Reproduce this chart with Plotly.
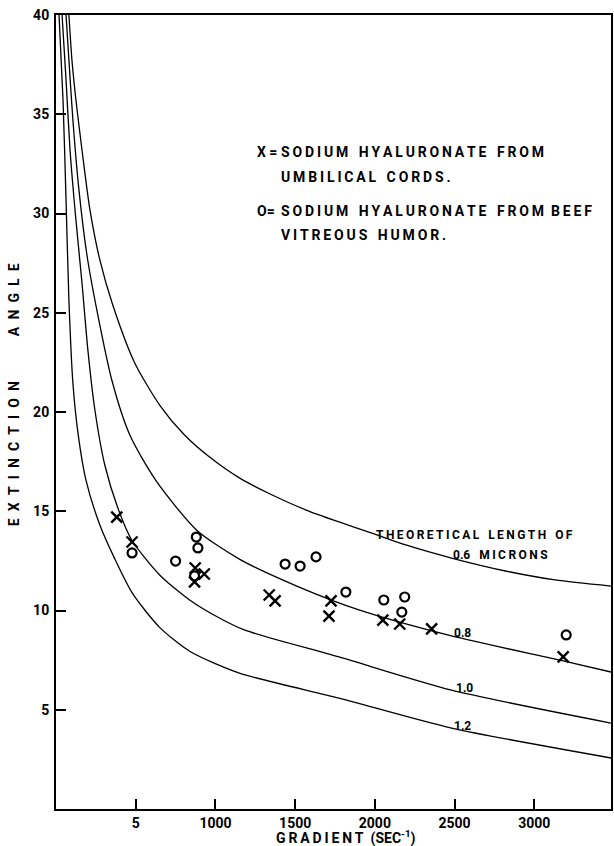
import plotly.graph_objects as go

# ---------------- data ----------------
# theoretical curves (gradient, extinction angle)
g_06 = [81, 100, 125, 163, 213, 275, 356, 494, 650, 806, 963, 1150, 1356, 1569, 1775, 1981, 2194, 2481, 2819, 3131, 3481]
a_06 = [40.0, 37.73, 35.72, 33.20, 30.18, 27.66, 25.39, 22.47, 20.35, 18.84, 17.73, 16.68, 15.82, 15.06, 14.46, 13.90, 13.30, 12.64, 11.99, 11.54, 11.23]

g_08 = [63, 81, 106, 144, 194, 256, 350, 463, 625, 881, 1150, 1525, 1900, 2481, 3181, 3481]
a_08 = [40.0, 37.73, 34.71, 31.18, 27.91, 25.14, 21.61, 18.84, 16.57, 14.06, 12.59, 11.18, 10.03, 8.72, 7.46, 6.90]

g_10 = [38, 63, 88, 125, 163, 200, 244, 306, 388, 475, 650, 838, 1025, 1181, 1775, 2481, 3481]
a_10 = [40.0, 36.73, 33.2, 29.67, 26.5, 23.12, 20.1, 17.33, 15.16, 13.55, 11.79, 10.53, 9.62, 9.02, 7.66, 5.99, 4.33]

g_12 = [19, 44, 63, 81, 106, 138, 188, 275, 369, 481, 650, 838, 1150, 1775, 2481, 3481]
a_12 = [40.0, 35.72, 30.68, 25.64, 21.46, 18.94, 16.57, 14.31, 12.6, 10.85, 9.15, 7.95, 6.85, 5.59, 4.08, 2.57]

# measured points
g_umbilical = [381, 477, 873, 869, 930, 1337, 1374, 1725, 1712, 2050, 2156, 2356, 3181]
a_umbilical = [14.7, 13.45, 12.14, 11.44, 11.84, 10.78, 10.48, 10.48, 9.72, 9.52, 9.32, 9.07, 7.66]

g_vitreous = [477, 750, 880, 890, 869, 1437, 1531, 1631, 1818, 2056, 2187, 2169, 3200]
a_vitreous = [12.9, 12.49, 13.7, 13.15, 11.74, 12.34, 12.24, 12.7, 10.93, 10.53, 10.68, 9.92, 8.77]

x_tickvals = [500, 1000, 1500, 2000, 2500, 3000]
x_ticktext = ["5", "1000", "1500", "2000", "2500", "3000"]
y_tickvals = [5, 10, 15, 20, 25, 30, 35, 40]
y_ticktext = ["5", "10", "15", "20", "25", "30", "35", "40"]

FONT = "Roboto"
NB = "\u00a0"

fig = go.Figure()

for g, a in [(g_06, a_06), (g_08, a_08), (g_10, a_10), (g_12, a_12)]:
    fig.add_trace(go.Scatter(
        x=g, y=a, mode="lines",
        line=dict(color="black", width=1.3, shape="spline", smoothing=0.7),
        showlegend=False, hoverinfo="skip"))

fig.add_trace(go.Scatter(
    x=g_umbilical, y=a_umbilical, mode="markers",
    marker=dict(symbol="x-thin-open", size=11, color="black",
                line=dict(color="black", width=2.4)),
    showlegend=False))

fig.add_trace(go.Scatter(
    x=g_vitreous, y=a_vitreous, mode="markers",
    marker=dict(symbol="circle-open", size=9, color="black",
                line=dict(color="black", width=2.2)),
    showlegend=False))

tickfont = dict(family=FONT, size=14, color="black", weight="bold")

fig.update_xaxes(
    range=[0, 3481], showgrid=False, zeroline=False,
    showline=True, linecolor="black", linewidth=2, mirror=True,
    ticks="inside", ticklen=10, tickwidth=1.5, tickcolor="black",
    tickvals=x_tickvals, ticktext=x_ticktext, tickfont=tickfont)

fig.update_yaxes(
    range=[0, 40], showgrid=False, zeroline=False,
    showline=True, linecolor="black", linewidth=2, mirror=True,
    ticks="inside", ticklen=10, tickwidth=1.5, tickcolor="black",
    tickvals=y_tickvals, ticktext=y_ticktext, tickfont=tickfont,
    ticklabelstandoff=2)

def sp(word, sep="\u2009"):
    return sep.join(list(word))

annots = []
txtfont = dict(family=FONT, size=14, color="black", weight="bold")

def add(text, x, y, xanchor="left", font=txtfont, **kw):
    annots.append(dict(text=text, x=x, y=y, xref="x", yref="y",
                       xanchor=xanchor, yanchor="middle", showarrow=False,
                       font=font, **kw))

gap = NB * 3
# legend block
add("X" + NB + "=", 1250, 33.1)
add(sp("SODIUM") + gap + sp("HYALURONATE") + gap + sp("FROM"), 1400, 33.1)
add(sp("UMBILICAL") + gap + sp("CORDS."), 1400, 31.85)
add("O=", 1250, 30.15)
add(sp("SODIUM") + gap + sp("HYALURONATE") + gap + sp("FROM") + NB * 2 + sp("BEEF"), 1400, 30.15)
add(sp("VITREOUS") + gap + sp("HUMOR."), 1400, 28.9)

# curve labels
lblfont = dict(family=FONT, size=12, color="black", weight="bold")
add(sp("THEORETICAL") + gap + sp("LENGTH") + gap + sp("OF"), 1994, 13.80, font=lblfont)
add("0.6" + gap + sp("MICRONS"), 2475, 12.80, font=lblfont)
add("0.8", 2481, 8.87, font=lblfont)
add("1.0", 2494, 6.10, font=lblfont)
add("1.2", 2481, 4.18, font=lblfont)

# axis titles
annots.append(dict(text=sp("GRADIENT") + NB * 2 + "(SEC<sup>-1</sup>)",
                   x=(347 - 56) / 557, y=-(837 - 809) / 794, xref="paper", yref="paper",
                   xanchor="center", yanchor="middle", showarrow=False,
                   font=dict(family=FONT, size=14, color="black", weight="bold")))
annots.append(dict(text=sp("EXTINCTION", "\u2002"), x=(14 - 56) / 557, y=(809 - 454) / 794,
                   xref="paper", yref="paper", xanchor="center", yanchor="middle",
                   showarrow=False, textangle=-90,
                   font=dict(family=FONT, size=14, color="black", weight="bold")))
annots.append(dict(text=sp("ANGLE", "\u2002"), x=(14 - 56) / 557, y=(809 - 300) / 794,
                   xref="paper", yref="paper", xanchor="center", yanchor="middle",
                   showarrow=False, textangle=-90,
                   font=dict(family=FONT, size=14, color="black", weight="bold")))

fig.update_layout(
    width=614, height=846,
    margin=dict(l=56, r=1, t=15, b=37),
    paper_bgcolor="white", plot_bgcolor="white",
    annotations=annots, showlegend=False)

fig.write_html("out.html", config={"displayModeBar": False},
               post_script="document.body.style.margin='0';document.body.style.overflow='hidden';")
